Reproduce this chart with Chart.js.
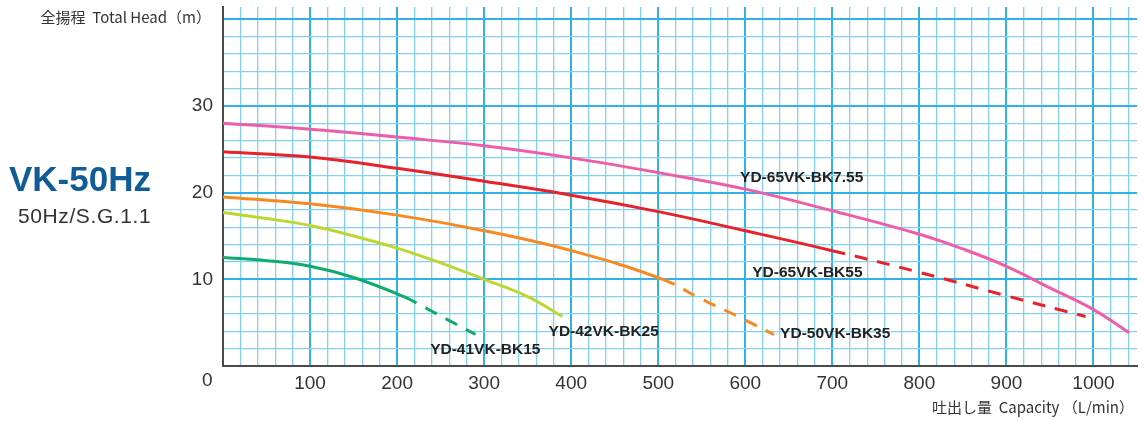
<!DOCTYPE html>
<html>
<head>
<meta charset="utf-8">
<script src="https://cdn.jsdelivr.net/npm/chart.js@4"></script>
<style>
  body { margin: 0; width: 1144px; height: 421px; position: relative; background: #fff; overflow: hidden; }
  #c { position: absolute; left: 0; top: 0; }
  .t { position: absolute; white-space: nowrap; color: #333; }
  #ytitle { right: 933px; top: 6px; font: 15px "Noto Sans CJK JP"; }
  #xtitle { right: 10px; top: 396px; font: 15px "Noto Sans CJK JP"; }
  #origin { left: 202px; top: 369px; font: 19px "Liberation Sans", Arial, sans-serif; }
  #title { left: 9px; top: 159px; font: bold 35px "Liberation Sans", Arial, sans-serif; color: #0f5c96; }
  #sub { left: 18px; top: 204px; font: 21px "Liberation Sans", Arial, sans-serif; letter-spacing: 0.6px; }
</style>
</head>
<body>
<canvas id="c" width="1144" height="421"></canvas>
<div class="t" id="ytitle">全揚程&nbsp; Total Head（m）</div>
<div class="t" id="xtitle">吐出し量&nbsp; Capacity （L/min）</div>
<div class="t" id="origin">0</div>
<div class="t" id="title">VK-50Hz</div>
<div class="t" id="sub">50Hz/S.G.1.1</div>
<script>
// capacity (L/min) and head (m)
const bk755Q = [0, 100, 200, 300, 400, 500, 600, 700, 800, 850, 900, 950, 1000, 1041];
const bk755H = [28.0, 27.3, 26.4, 25.4, 24.0, 22.3, 20.4, 17.9, 15.2, 13.5, 11.5, 9.0, 6.5, 3.85];

const bk55Q = [0, 100, 200, 300, 400, 500, 600, 700, 800, 900, 991];
const bk55H = [24.7, 24.1, 22.8, 21.3, 19.7, 17.8, 15.6, 13.3, 10.8, 8.1, 5.7];

const bk35Q = [0, 100, 200, 300, 400, 505, 550, 600, 633];
const bk35H = [19.5, 18.7, 17.4, 15.6, 13.3, 10.0, 7.7, 5.3, 3.6];

const bk25Q = [0, 50, 100, 150, 200, 250, 300, 350, 390];
const bk25H = [17.7, 17.0, 16.2, 15.0, 13.6, 11.9, 10.0, 8.0, 5.7];

const bk15Q = [0, 50, 100, 150, 209, 228, 255, 290];
const bk15H = [12.5, 12.15, 11.5, 10.2, 7.95, 6.95, 5.5, 3.65];

// where each curve turns dashed
const dashFrom = { bk755: Infinity, bk55: 700, bk35: 505, bk25: Infinity, bk15: 209 };

const xLabels = [100, 200, 300, 400, 500, 600, 700, 800, 900, 1000];
const yLabels = [10, 20, 30];

const curveLabels = [
    { text: 'YD-65VK-BK7.55', q: 594, h: 21.7 },
    { text: 'YD-65VK-BK55', q: 608, h: 10.8 },
    { text: 'YD-42VK-BK25', q: 374, h: 3.9 },
    { text: 'YD-50VK-BK35', q: 640, h: 3.7 },
    { text: 'YD-41VK-BK15', q: 238, h: 1.85 }
];

const pts = (qs, hs) => qs.map((q, i) => ({ x: q, y: hs[i] }));

function curve(qs, hs, color, from) {
    return {
        data: pts(qs, hs),
        borderColor: color,
        borderWidth: 3,
        pointRadius: 0,
        fill: false,
        tension: 0.4,
        segment: {
            borderDash: ctx => ctx.p0.parsed.x >= from ? [13, 10] : undefined
        }
    };
}

const labelPlugin = {
    id: 'curveLabels',
    afterDatasetsDraw(chart) {
        const { ctx, scales } = chart;
        ctx.save();
        ctx.font = 'bold 15.5px "Liberation Sans", Arial, sans-serif';
        ctx.fillStyle = '#222';
        ctx.textBaseline = 'middle';
        curveLabels.forEach(l => {
            ctx.fillText(l.text, scales.x.getPixelForValue(l.q), scales.y.getPixelForValue(l.h));
        });
        ctx.restore();
    }
};

const major = '#2fb2e4', minor = '#82d1f1';

new Chart(document.getElementById('c').getContext('2d'), {
    type: 'line',
    data: {
        datasets: [
            curve(bk755Q, bk755H, '#ee5ea8', dashFrom.bk755),
            curve(bk55Q, bk55H, '#e8212b', dashFrom.bk55),
            curve(bk35Q, bk35H, '#f7891f', dashFrom.bk35),
            curve(bk25Q, bk25H, '#bdd631', dashFrom.bk25),
            curve(bk15Q, bk15H, '#10ab6a', dashFrom.bk15)
        ]
    },
    options: {
        responsive: false,
        animation: false,
        layout: { padding: { left: 0, right: 7, top: 7, bottom: 0 } },
        plugins: { legend: { display: false }, tooltip: { enabled: false } },
        scales: {
            x: {
                type: 'linear',
                min: 0,
                max: 1050,
                afterFit: s => { s.height = 55; s.paddingLeft = 0; s.paddingRight = 0; },
                afterBuildTicks: s => {
                    const t = [];
                    for (let v = 0; v <= 1040; v += 20) t.push({ value: v });
                    s.ticks = t;
                },
                grid: {
                    drawTicks: false,
                    color: c => c.tick.value % 100 === 0 ? major : minor,
                    lineWidth: c => c.tick.value % 100 === 0 ? 2 : 1.3
                },
                border: { display: true, color: '#4a4a4a', width: 2 },
                ticks: {
                    autoSkip: false,
                    maxRotation: 0,
                    padding: 6,
                    color: '#333',
                    font: { family: '"Liberation Sans", Arial, sans-serif', size: 19 },
                    callback: v => xLabels.includes(v) ? String(v) : ''
                }
            },
            y: {
                type: 'linear',
                min: 0,
                max: 41.4,
                afterFit: s => { s.width = 223; s.paddingTop = 0; s.paddingBottom = 0; },
                afterBuildTicks: s => {
                    const t = [];
                    for (let v = 0; v <= 40; v += 2) t.push({ value: v });
                    s.ticks = t;
                },
                grid: {
                    drawTicks: false,
                    color: c => c.tick.value % 10 === 0 ? major : minor,
                    lineWidth: c => c.tick.value % 10 === 0 ? 2 : 1.3
                },
                border: { display: true, color: '#4a4a4a', width: 2 },
                ticks: {
                    autoSkip: false,
                    padding: 10,
                    color: '#333',
                    font: { family: '"Liberation Sans", Arial, sans-serif', size: 19 },
                    callback: v => yLabels.includes(v) ? String(v) : ''
                }
            }
        }
    },
    plugins: [labelPlugin]
});
</script>
</body>
</html>
